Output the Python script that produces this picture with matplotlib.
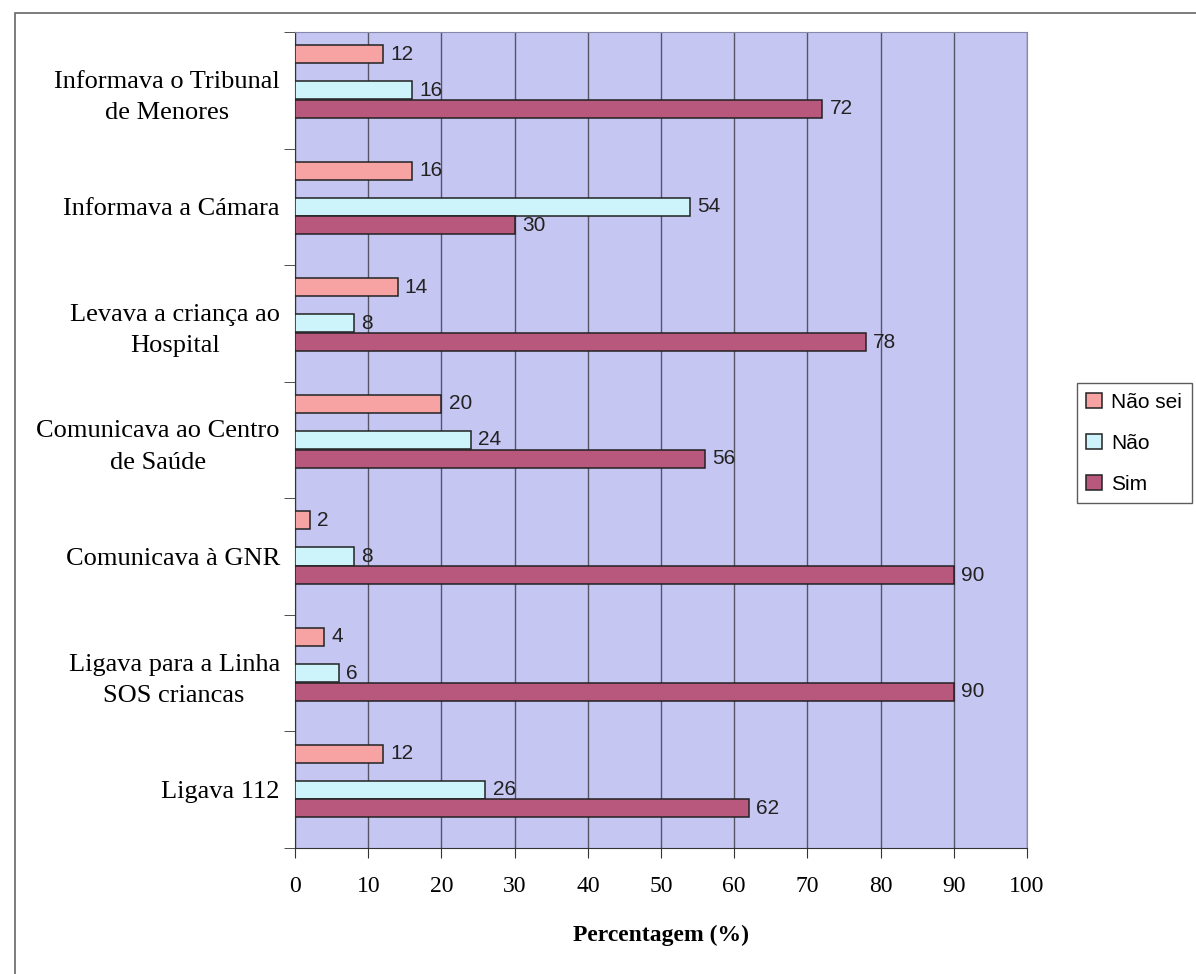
import matplotlib.pyplot as plt
import numpy as np
from matplotlib.patches import Rectangle

categories = [
    "Ligava 112",
    "Ligava para a Linha\nSOS criancas",
    "Comunicava à GNR",
    "Comunicava ao Centro\nde Saúde",
    "Levava a criança ao\nHospital",
    "Informava a Cámara",
    "Informava o Tribunal\nde Menores",
]
nao_sei = [12, 4, 2, 20, 14, 16, 12]
nao = [26, 6, 8, 24, 8, 54, 16]
sim = [62, 90, 90, 56, 78, 30, 72]

series = [
    ("Não sei", nao_sei, "#F7A3A3", 0.31),
    ("Não", nao, "#CDF3FB", 0.0),
    ("Sim", sim, "#B9587D", -0.16),
]

fig = plt.figure(figsize=(11.96, 9.74), dpi=100)
# outer frame of the chart area
fig.patches.append(Rectangle((0.0125, -0.1), 1.2, 1.0867, transform=fig.transFigure,
                             fill=False, edgecolor="#666666", linewidth=1.2))

ax = fig.add_axes([0.2467, 0.1294, 0.612, 0.8378])
ax.set_facecolor("#C6C6F3")

y = np.arange(len(categories))
h = 0.155
for name, vals, color, off in series:
    bars = ax.barh(y + off, vals, height=h, color=color, edgecolor="#222222",
                   linewidth=1.1, label=name, zorder=3)
    for b, v in zip(bars, vals):
        ax.text(v + 1.0, b.get_y() + h / 2, str(v), va="center", ha="left",
                fontsize=15, family="Liberation Sans", color="#222222", zorder=4)

ax.set_xlim(0, 100)
ax.set_ylim(-0.5, len(categories) - 0.5)
ax.set_xticks(np.arange(0, 101, 10))
ax.xaxis.grid(True, color="#555566", linewidth=1.0, zorder=1)
ax.set_axisbelow(True)

ax.set_yticks(y)
ax.set_yticklabels(categories, family="Liberation Serif", fontsize=19,
                   linespacing=1.55)
for lab in ax.get_yticklabels():
    lab.set_multialignment("center")
ax.set_yticks(np.arange(-0.5, len(categories), 1), minor=True)
ax.tick_params(axis="y", which="major", length=0, pad=11)
ax.tick_params(axis="y", which="minor", length=8, color="#333333", direction="out")
ax.tick_params(axis="x", length=7, color="#333333", direction="out", pad=13)
for lab in ax.get_xticklabels():
    lab.set_family("Liberation Serif")
    lab.set_fontsize(17)

for s in ["left", "bottom"]:
    ax.spines[s].set_color("#333333")
for s in ["top", "right"]:
    ax.spines[s].set_color("#8888aa")

ax.set_xlabel("Percentagem (%)", family="Liberation Serif", fontsize=17,
              fontweight="bold", labelpad=20)

leg = fig.legend(loc="center left", bbox_to_anchor=(0.9005, 0.545),
                 prop={"family": "Liberation Sans", "size": 15},
                 frameon=True, fancybox=False, handlelength=0.75, handleheight=0.75,
                 handletextpad=0.45, borderpad=0.45, borderaxespad=0.0,
                 labelspacing=1.05)
leg.get_frame().set_edgecolor("#333333")
leg.get_frame().set_linewidth(1.0)

fig.savefig("out.png", dpi=100)
